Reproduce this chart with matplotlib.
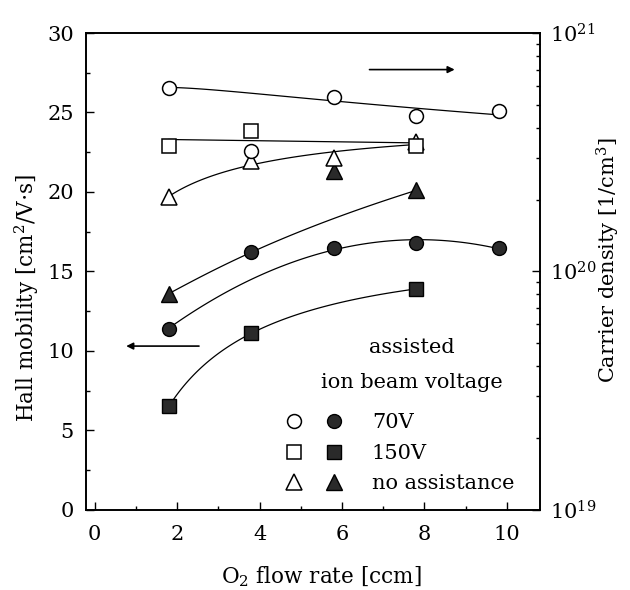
import numpy as np
import matplotlib.pyplot as plt
from matplotlib.ticker import MultipleLocator, LogLocator, NullFormatter
from matplotlib.legend_handler import HandlerTuple

plt.rcParams['font.family'] = 'DejaVu Serif'
plt.rcParams['mathtext.fontset'] = 'dejavuserif'

# O2 flow rate [ccm]
flow_70v = [1.8, 3.8, 5.8, 7.8, 9.8]
flow_150v = [1.8, 3.8, 7.8]
flow_none = [1.8, 5.8, 7.8]
flow_none_open = [1.8, 3.8, 5.8, 7.8]

# Hall mobility [cm2/V.s] (filled symbols, left axis)
mob_70v = [11.4, 16.2, 16.5, 16.8, 16.5]
mob_150v = [6.5, 11.1, 13.9]
mob_none = [13.6, 21.3, 20.1]

# carrier density [1/cm3] (open symbols, right axis)
dens_70v = [5.9e20, 3.2e20, 5.4e20, 4.5e20, 4.7e20]
dens_150v = [3.35e20, 3.9e20, 3.35e20]
dens_none = [2.05e20, 2.9e20, 3.0e20, 3.5e20]


def trend(x, y, deg, log=False, logx=True):
    # smooth guide curve through the points (polynomial fit)
    x = np.asarray(x, float)
    y = np.asarray(y, float)
    if log:
        y = np.log10(y)
    f = np.log if logx else (lambda v: v)
    c = np.polyfit(f(x), y, deg)
    xs = np.linspace(x.min(), x.max(), 100)
    ys = np.polyval(c, f(xs))
    if log:
        ys = 10 ** ys
    return xs, ys


fig = plt.figure(figsize=(6.3, 5.9), dpi=100)
ax = fig.add_axes([0.137, 0.136, 0.72, 0.808])
ax2 = ax.twinx()

lw = 0.9
dark = '#2a2a2a'
sizes = {'o': 10, 's': 9.5, '^': 12}

# guide curves, filled symbols
keep = (0, 2, 3, 4)
xs, ys = trend([flow_70v[i] for i in keep], [mob_70v[i] for i in keep], 2, logx=False)
ax.plot(xs, ys, color='k', lw=lw)
xs, ys = trend(flow_150v, mob_150v, 2)
ax.plot(xs, ys, color='k', lw=lw)
# no-assistance curve passes through the 70V point at 3.8 ccm
xs, ys = trend([flow_none[0], flow_70v[1], flow_none[2]], [mob_none[0], mob_70v[1], mob_none[2]], 2)
ax.plot(xs, ys, color='k', lw=lw)

ax.plot(flow_none, mob_none, '^', ms=sizes['^'], color=dark, mec='k', zorder=3)
ax.plot(flow_150v, mob_150v, 's', ms=sizes['s'], color=dark, mec='k', zorder=3)
ax.plot(flow_70v, mob_70v, 'o', ms=sizes['o'], color=dark, mec='k', zorder=3)

# guide curves, open symbols
xs, ys = trend([flow_70v[i] for i in keep], [dens_70v[i] for i in keep], 2, log=True)
ax2.plot(xs, ys, color='k', lw=lw)
xs, ys = trend(flow_150v, dens_150v, 1, log=True, logx=False)
ax2.plot(xs, ys, color='k', lw=lw)
xs, ys = trend(flow_none_open, dens_none, 2, log=True)
ax2.plot(xs, ys, color='k', lw=lw)

ax2.plot(flow_none_open, dens_none, '^', ms=sizes['^'], mfc='white', mec='k', mew=1.1, zorder=3)
ax2.plot(flow_150v, dens_150v, 's', ms=sizes['s'], mfc='white', mec='k', mew=1.1, zorder=3)
ax2.plot(flow_70v, dens_70v, 'o', ms=sizes['o'], mfc='white', mec='k', mew=1.1, zorder=3)

ax.set_xlim(-0.2, 10.8)
ax.set_ylim(0, 30)
ax2.set_yscale('log')
ax2.set_ylim(1e19, 1e21)

ax.xaxis.set_major_locator(MultipleLocator(2))
ax.xaxis.set_minor_locator(MultipleLocator(1))
ax.yaxis.set_major_locator(MultipleLocator(5))
ax.yaxis.set_minor_locator(MultipleLocator(2.5))
ax2.yaxis.set_major_locator(LogLocator(base=10, numticks=5))
ax2.yaxis.set_minor_locator(LogLocator(base=10, subs=np.arange(2, 10), numticks=20))
ax2.yaxis.set_minor_formatter(NullFormatter())

for a in (ax, ax2):
    a.tick_params(which='both', direction='in', labelsize=15, width=1)
    a.tick_params(which='major', length=6)
    a.tick_params(which='minor', length=3)
    for s in a.spines.values():
        s.set_linewidth(1.2)
ax.tick_params(axis='y', right=False, pad=9)
ax.tick_params(axis='x', pad=11)
ax2.tick_params(axis='y', pad=7)

ax.set_xlabel(r'O$_2$ flow rate [ccm]', fontsize=15.5)
ax.set_ylabel(r'Hall mobility [cm$^2$/V$\cdot$s]', fontsize=15.5)
ax2.set_ylabel(r'Carrier density [1/cm$^3$]', fontsize=15)
ax.xaxis.set_label_coords(0.517, -0.115)
ax.yaxis.set_label_coords(-0.1, 0.444)
ax2.yaxis.set_label_coords(1.122, 0.524)

# axis indicator arrows
ax.annotate('', xy=(8.8, 27.7), xytext=(6.6, 27.7),
            arrowprops=dict(arrowstyle='-|>', color='k', lw=1.2, mutation_scale=10))
ax.annotate('', xy=(0.7, 10.3), xytext=(2.6, 10.3),
            arrowprops=dict(arrowstyle='-|>', color='k', lw=1.2, mutation_scale=10))

# legend: open / filled symbol pairs
pairs = []
for m in ('o', 's', '^'):
    h_open = plt.Line2D([], [], ls='none', marker=m, ms=sizes[m], mfc='white', mec='k', mew=1.1)
    h_fill = plt.Line2D([], [], ls='none', marker=m, ms=sizes[m], color=dark, mec='k')
    pairs.append((h_open, h_fill))
leg = ax.legend(pairs, ['70V', '150V', 'no assistance'],
                handler_map={tuple: HandlerTuple(ndivide=None, pad=0.92)},
                fontsize=15, frameon=False, loc='lower right', bbox_to_anchor=(0.985, -0.005),
                handlelength=2.92, handletextpad=1.3, labelspacing=0.55)
ax.text(7.7, 10.2, 'assisted', fontsize=15, ha='center', va='center')
ax.text(7.7, 8.0, 'ion beam voltage', fontsize=15, ha='center', va='center')

fig.savefig('out.png', dpi=100)
